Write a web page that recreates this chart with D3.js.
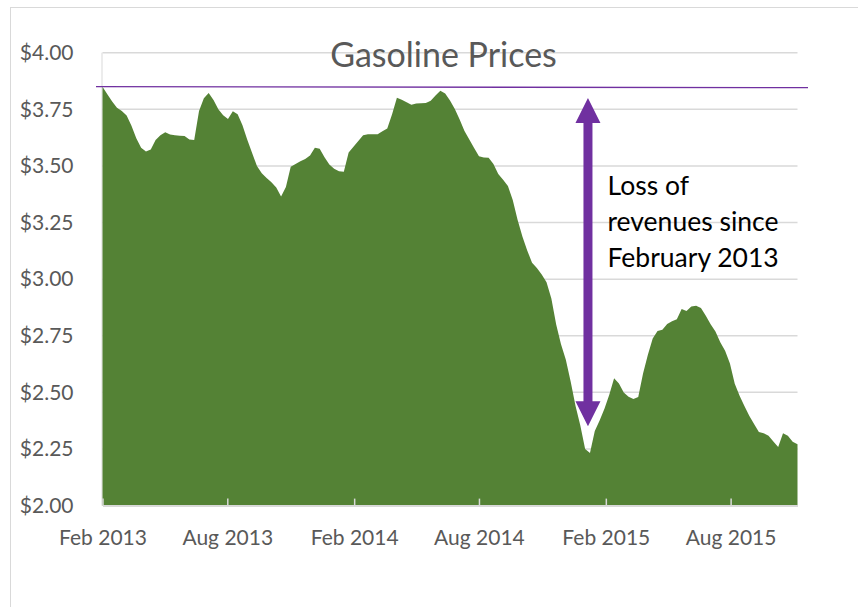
<!DOCTYPE html>
<html>
<head>
<meta charset="utf-8">
<script src="https://cdn.jsdelivr.net/npm/d3@7"></script>
<style>
  body { margin: 0; background: #fff; }
  svg { display: block; font-family: Lato, "Open Sans", sans-serif; }
</style>
</head>
<body>
<svg id="chart" width="858" height="607"></svg>
<script>
"use strict";

// Weekly average price, $/gal, first week of Feb 2013 onwards
const prices = [
  3.850, 3.816, 3.785, 3.757, 3.742, 3.723, 3.677, 3.622, 3.580, 3.564,
  3.573, 3.615, 3.636, 3.649, 3.639, 3.636, 3.633, 3.632, 3.617, 3.614,
  3.742, 3.799, 3.822, 3.791, 3.750, 3.724, 3.707, 3.741, 3.728, 3.680,
  3.616, 3.557, 3.500, 3.468, 3.447, 3.428, 3.405, 3.365, 3.407, 3.496,
  3.509, 3.521, 3.531, 3.546, 3.580, 3.576, 3.538, 3.506, 3.488, 3.477,
  3.474, 3.559, 3.585, 3.610, 3.635, 3.640, 3.640, 3.640, 3.653, 3.665,
  3.728, 3.801, 3.792, 3.781, 3.770, 3.776, 3.777, 3.778, 3.788, 3.811,
  3.832, 3.820, 3.789, 3.751, 3.705, 3.654, 3.617, 3.579, 3.543, 3.537,
  3.536, 3.508, 3.464, 3.439, 3.411, 3.350, 3.262, 3.188, 3.127, 3.072,
  3.049, 3.021, 2.986, 2.915, 2.800, 2.712, 2.644, 2.548, 2.441, 2.354,
  2.250, 2.232, 2.329, 2.376, 2.428, 2.489, 2.562, 2.539, 2.499, 2.481,
  2.471, 2.480, 2.583, 2.666, 2.738, 2.771, 2.776, 2.802, 2.814, 2.823,
  2.868, 2.859, 2.879, 2.882, 2.873, 2.838, 2.801, 2.769, 2.721, 2.684,
  2.627, 2.538, 2.485, 2.440, 2.397, 2.360, 2.325, 2.319, 2.309, 2.283,
  2.259, 2.320, 2.309, 2.282, 2.271
];

const startDate = new Date(2013, 1, 4);
const dates = prices.map((p, i) => d3.timeDay.offset(startDate, 7 * i));

const yTicks = [2.00, 2.25, 2.50, 2.75, 3.00, 3.25, 3.50, 3.75, 4.00];
const xTickLabels = ["Feb 2013", "Aug 2013", "Feb 2014", "Aug 2014", "Feb 2015", "Aug 2015"];
const xTickDates = xTickLabels.map((l, i) => d3.timeMonth.offset(startDate, 6 * i));

const title = "Gasoline Prices";
const noteLines = ["Loss of", "revenues since", "February 2013"];
// arrow runs from just under the Feb 2013 level down to just above the Jan 2015 low
const arrowTop = 3.80,
  arrowBottom = 2.35;

var graph = {};
graph.svg = d3.select("#chart");
graph.margins = { top: 52.7, right: 60.5, bottom: 101.4, left: 102.5 };
graph.width = +graph.svg.attr("width");
graph.height = +graph.svg.attr("height");

var plot = {};
plot.width = graph.width - graph.margins.left - graph.margins.right;
plot.height = graph.height - graph.margins.top - graph.margins.bottom;

// chart frame
graph.svg.append("rect")
  .attr("x", 10.5)
  .attr("y", 7.5)
  .attr("width", 870)
  .attr("height", 620)
  .attr("fill", "none")
  .attr("stroke", "#d9d9d9")
  .attr("stroke-width", 1);

graph.main_g = graph.svg.append("g")
  .attr("transform", "translate(" + graph.margins.left + "," + graph.margins.top + ")");

plot.x = d3.scaleTime()
  .domain(d3.extent(dates))
  .range([0, plot.width]);

plot.y = d3.scaleLinear()
  .domain([2, 4])
  .range([plot.height, 0]);

// gridlines
graph.main_g.append("g")
  .selectAll("line")
  .data(yTicks.slice(1))
  .enter()
  .append("line")
  .attr("x1", 0)
  .attr("x2", plot.width)
  .attr("y1", d => plot.y(d))
  .attr("y2", d => plot.y(d))
  .attr("stroke", "#d9d9d9")
  .attr("stroke-width", 1.5);

graph.main_g.append("line")
  .attr("x1", -0.5)
  .attr("x2", -0.5)
  .attr("y1", 0)
  .attr("y2", plot.height)
  .attr("stroke", "#d9d9d9")
  .attr("stroke-width", 1);

// area
plot.area = d3.area()
  .x((d, i) => plot.x(dates[i]))
  .y0(plot.height)
  .y1(d => plot.y(d));

graph.main_g.append("path")
  .datum(prices)
  .attr("d", plot.area)
  .attr("fill", "#548235");

// y axis
plot.yAxis = d3.axisLeft(plot.y)
  .tickValues(yTicks)
  .tickFormat(d3.format("$.2f"))
  .tickSize(0)
  .tickPadding(29);

plot.gY = graph.main_g.append("g")
  .call(plot.yAxis);
plot.gY.select(".domain").remove();
plot.gY.selectAll("text")
  .attr("fill", "#595959")
  .style("font-size", "21px")
  .style("font-family", "Lato");

// x axis
plot.xAxis = d3.axisBottom(plot.x)
  .tickValues(xTickDates)
  .tickFormat((d, i) => xTickLabels[i])
  .tickSizeInner(-7)
  .tickSizeOuter(0)
  .tickPadding(24);

plot.gX = graph.main_g.append("g")
  .attr("transform", "translate(0," + plot.height + ")")
  .call(plot.xAxis);
plot.gX.select(".domain")
  .attr("stroke", "#d9d9d9")
  .attr("stroke-width", 2);
plot.gX.selectAll(".tick line")
  .attr("stroke", "#d9d9d9")
  .attr("stroke-width", 1.5);
plot.gX.selectAll("text")
  .attr("fill", "#595959")
  .style("font-size", "21px")
  .style("font-family", "Lato");

// title
graph.svg.append("text")
  .attr("x", 443.5)
  .attr("y", 66.5)
  .attr("text-anchor", "middle")
  .attr("fill", "#595959")
  .style("font-size", "34px")
  .text(title);

// reference line at the starting price
graph.main_g.append("line")
  .attr("x1", -6.5)
  .attr("x2", plot.width + 10.5)
  .attr("y1", plot.y(prices[0]))
  .attr("y2", plot.y(prices[0]) + 1)
  .attr("stroke", "#7030a0")
  .attr("stroke-width", 1.4);

// double-headed arrow
var ax = plot.x(dates[101]) - 2,
  ay0 = plot.y(arrowTop),
  ay1 = plot.y(arrowBottom),
  head = 25,
  headW = 12.5,
  shaftW = 4.5;

graph.main_g.append("path")
  .attr("d", d3.line()([
    [ax, ay0],
    [ax + headW, ay0 + head],
    [ax + shaftW, ay0 + head],
    [ax + shaftW, ay1 - head],
    [ax + headW, ay1 - head],
    [ax, ay1],
    [ax - headW, ay1 - head],
    [ax - shaftW, ay1 - head],
    [ax - shaftW, ay0 + head],
    [ax - headW, ay0 + head]
  ]) + "Z")
  .attr("fill", "#7030a0");

// note
graph.svg.append("text")
  .attr("x", 607.5)
  .attr("y", 195)
  .attr("fill", "#000")
  .style("font-size", "26.5px")
  .selectAll("tspan")
  .data(noteLines)
  .enter()
  .append("tspan")
  .attr("x", 607.5)
  .attr("dy", (d, i) => i ? 36 : 0)
  .text(d => d);
</script>
</body>
</html>
